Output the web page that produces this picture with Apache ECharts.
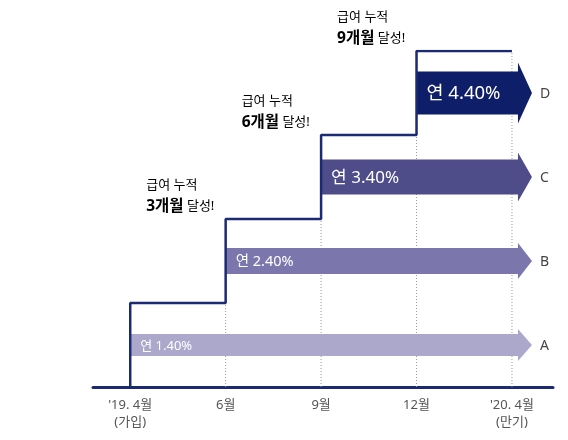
<!DOCTYPE html>
<html><head><meta charset="utf-8">
<script src="https://cdn.jsdelivr.net/npm/echarts@6/dist/echarts.min.js"></script>
<style>html,body{margin:0;padding:0;background:#fff}#c{width:568px;height:440px}</style>
</head><body><div id="c"></div>
<script>
// ---- data ----
const months = ["'19. 4월\n(가입)", "6월", "9월", "12월", "'20. 4월\n(만기)"];
const stepLevels = [0, 1, 2, 3, 4];            // step level at each month index
const tiers = ['A', 'B', 'C', 'D'];
const rates = ['1.40', '2.40', '3.40', '4.40'];   // 연 %
const achievedMonths = [3, 6, 9];                 // 급여 누적 N개월 달성

// ---- styles ----
const FONT = '"Noto Sans","Noto Sans CJK KR",sans-serif';
const NAVY = '#1b2a72';
const arrowColors = ['#aba8cc', '#7b77ac', '#4f4c8a', '#0e1e69'];
const arrowHeights = [22, 26, 35, 43];
const arrowFonts = [13, 14.5, 17, 18.5];

const chart = echarts.init(document.getElementById('c'), null, {renderer: 'canvas'});

const stepData = months.map((m, i) => [i, stepLevels[i]]);
const dotData = months.slice(1).map((m, i) => [i + 1, stepLevels[i + 1]]);
const arrowData = tiers.map((t, i) => [i, stepLevels[i] + 0.5, i]);
const noteData = achievedMonths.map((n, i) => [i, stepLevels[i + 2], n]);

chart.setOption({
  animation: false,
  grid: {left: 93, right: 15, top: 51, bottom: 53},
  xAxis: {
    type: 'value', min: -0.39, max: 4.43,
    splitLine: {show: false},
    axisLine: {show: true, lineStyle: {color: NAVY, width: 3}},
    axisTick: {show: false},
    axisLabel: {
      customValues: [0, 1, 2, 3, 4],
      formatter: v => months[Math.round(v)] || '',
      color: '#555', fontSize: 13, lineHeight: 17, margin: 10, fontFamily: FONT
    }
  },
  yAxis: {type: 'value', min: 0, max: 4, show: false},
  series: [
    { // dotted guide lines
      type: 'custom', z: 1, silent: true,
      data: dotData,
      renderItem: (params, api) => {
        const p0 = api.coord([api.value(0), 0]);
        const p1 = api.coord([api.value(0), api.value(1)]);
        return {type: 'line', shape: {x1: p0[0], y1: p0[1], x2: p1[0], y2: p1[1]},
          style: {stroke: '#9a9a9a', lineWidth: 1, lineDash: [1, 2]}};
      }
    },
    { // arrows
      type: 'custom', z: 2, silent: true,
      data: arrowData,
      renderItem: (params, api) => {
        const i = api.value(2);
        const s = api.coord([api.value(0), api.value(1)]);
        const end = api.coord([4, 0])[0];
        const h = arrowHeights[i], ext = Math.round(h * 0.21);
        const hb = end + 6, tip = hb + 14;
        const cy = s[1], x0 = s[0];
        return {type: 'group', children: [
          {type: 'polygon', shape: {points: [
            [x0, cy - h / 2], [hb, cy - h / 2], [hb, cy - h / 2 - ext], [tip, cy],
            [hb, cy + h / 2 + ext], [hb, cy + h / 2], [x0, cy + h / 2]]},
            style: {fill: arrowColors[i]}},
          {type: 'text', style: {text: '연 ' + rates[i] + '%', x: x0 + 10, y: cy + 1,
            fill: '#fff', fontSize: arrowFonts[i], fontFamily: FONT,
            verticalAlign: 'middle', align: 'left'}},
          {type: 'text', style: {text: tiers[i], x: tip + 8, y: cy + 1,
            fill: '#444', fontSize: 14, fontFamily: FONT, verticalAlign: 'middle', align: 'left'}}
        ]};
      }
    },
    { // step line
      type: 'line', z: 3, step: 'start', symbol: 'none',
      data: stepData,
      lineStyle: {color: NAVY, width: 2.5}
    },
    { // annotations
      type: 'custom', z: 4, silent: true,
      data: noteData,
      renderItem: (params, api) => {
        const p = api.coord([api.value(0), api.value(1)]);
        return {type: 'text', style: {
          text: '{g|급여 누적}\n{b|' + api.value(2) + '개월} {g|달성!}',
          x: p[0] + 16, y: p[1] - 2, align: 'left', verticalAlign: 'bottom',
          rich: {
            g: {fontSize: 13, color: '#666', fontFamily: FONT, lineHeight: 21},
            b: {fontSize: 15.5, color: '#1c2a6e', fontWeight: 'bold', fontFamily: FONT, lineHeight: 21}
          }
        }};
      }
    }
  ]
});
</script></body></html>
